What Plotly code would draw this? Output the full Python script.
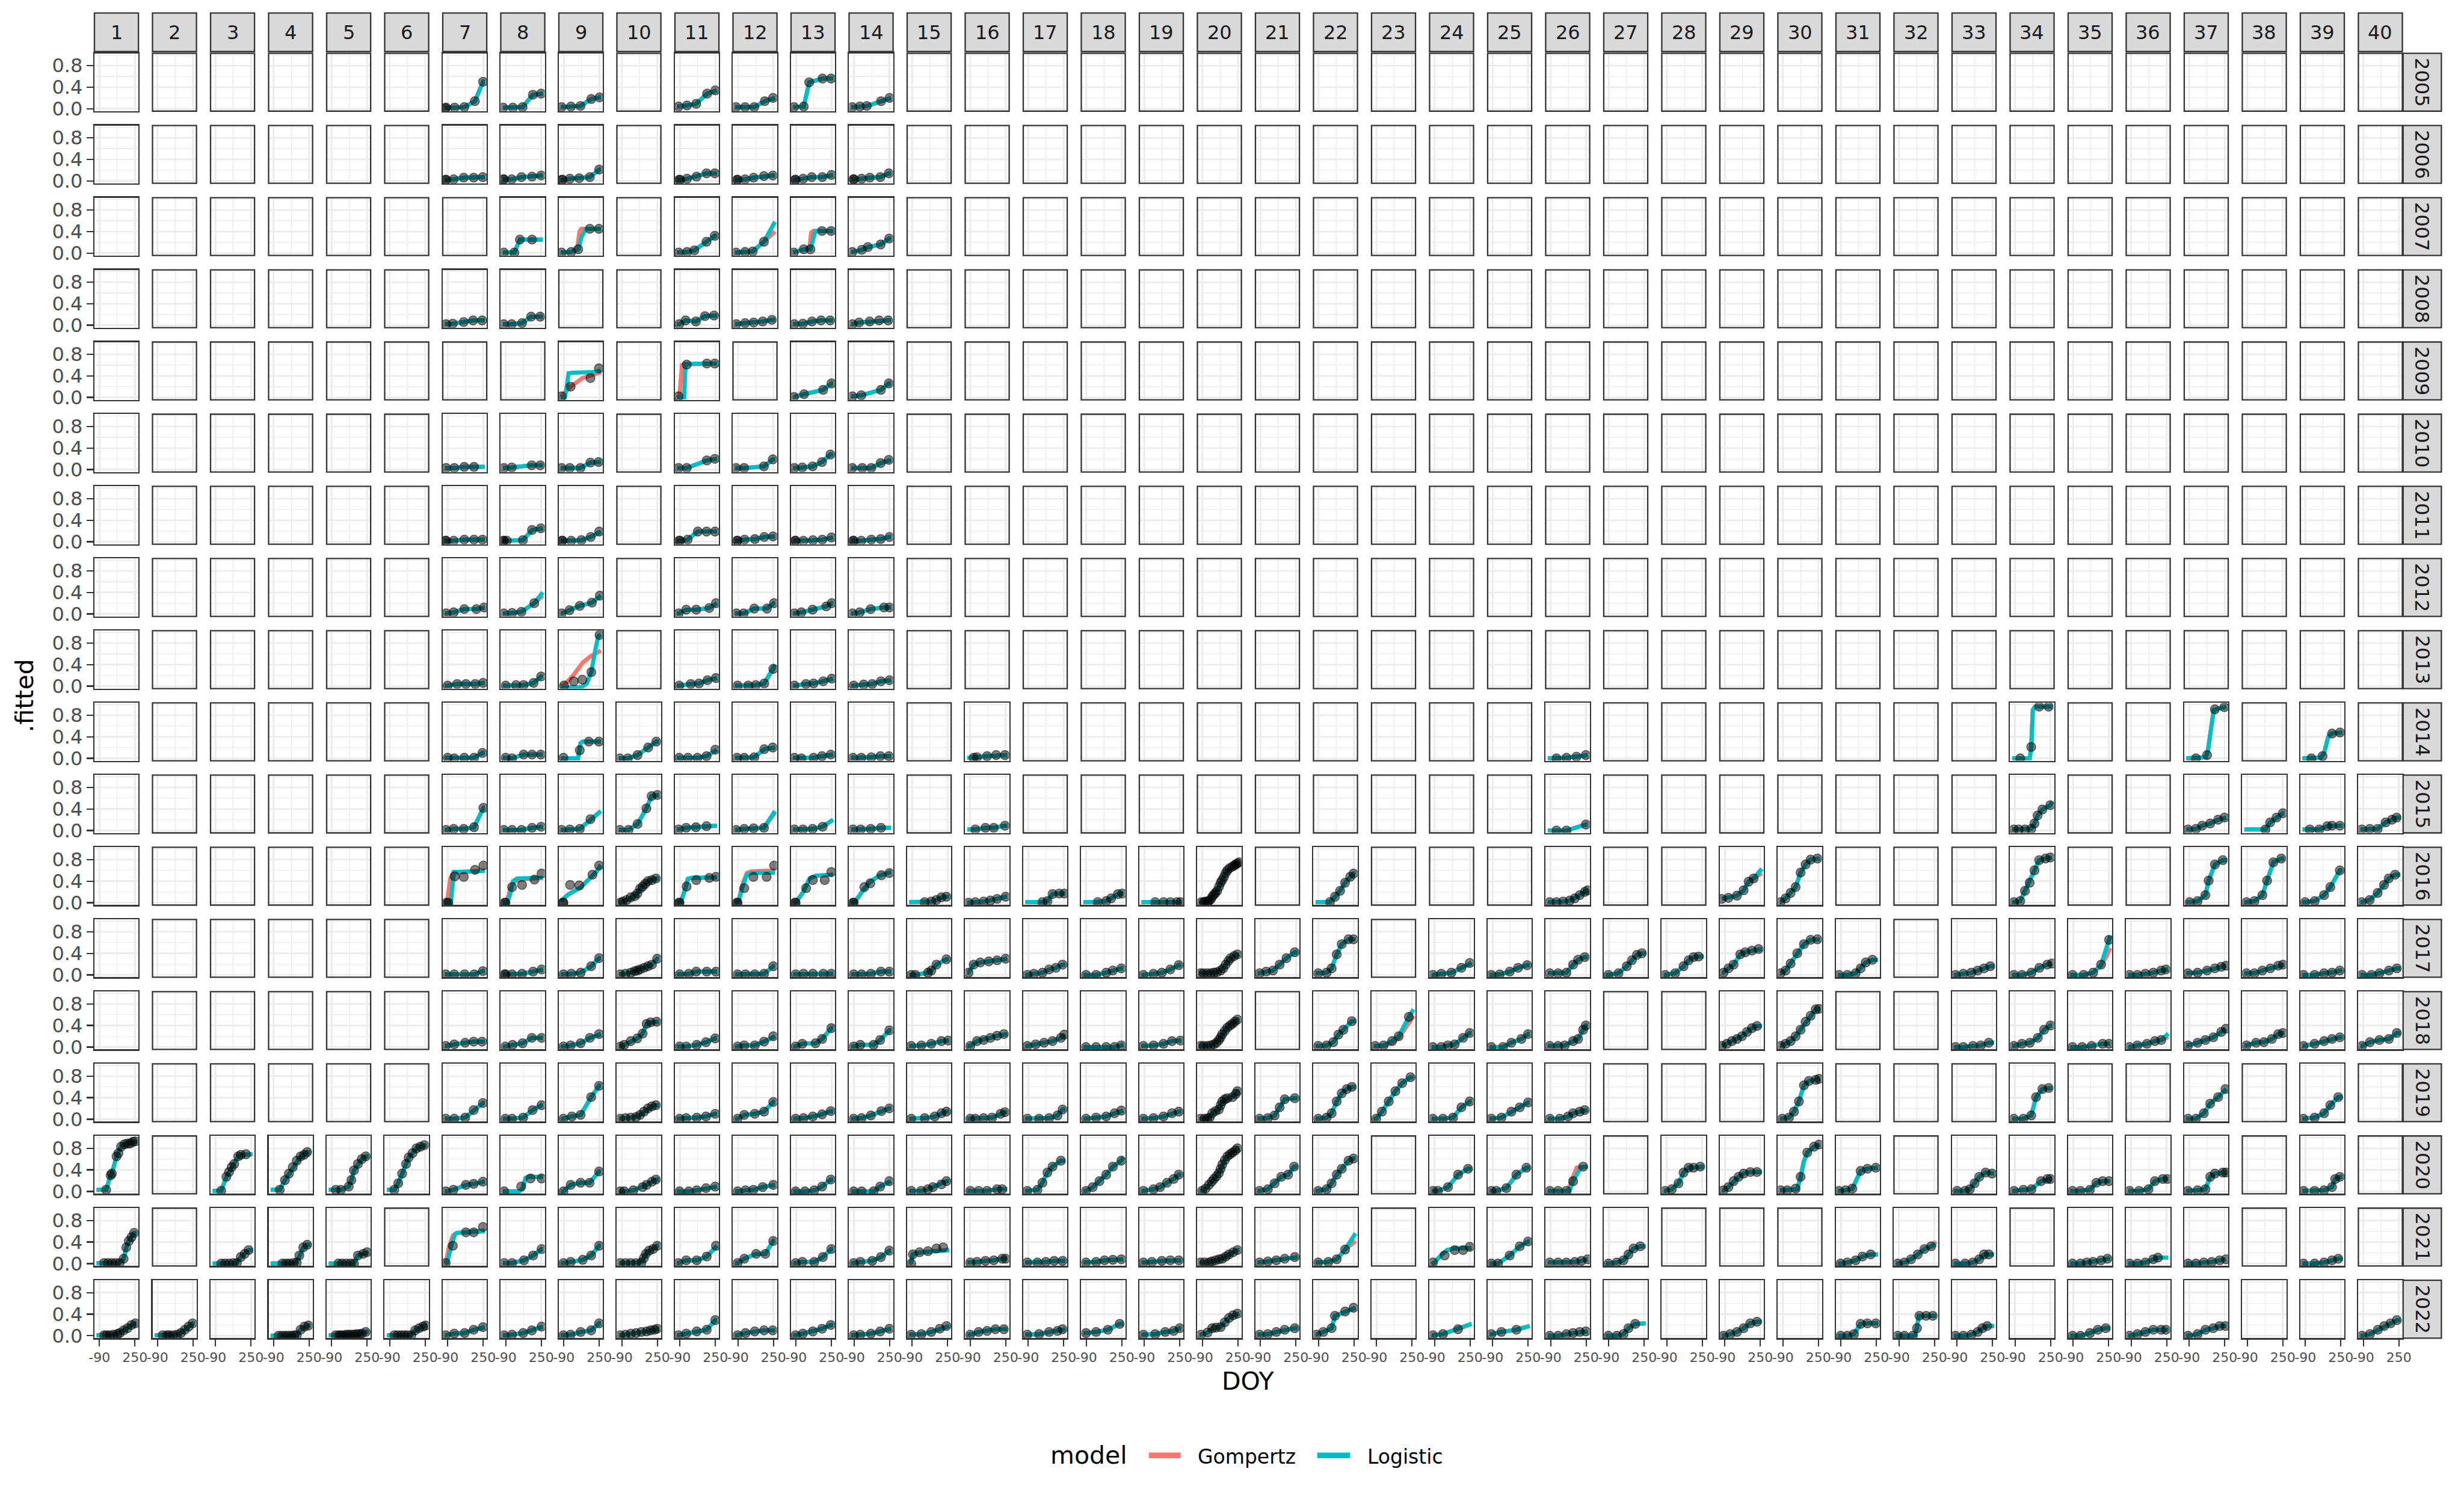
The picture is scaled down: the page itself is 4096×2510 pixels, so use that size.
import plotly.graph_objects as go

# ---------------- canvas ----------------
W, H = 4096, 2510
S = W / 4320.0  # scale from reference pixels

# ---------------- facets / ticks ----------------
YEARS = list(range(2005, 2023))
SITES = list(range(1, 41))
X_BREAKS = [-90, 250]
X_LABELS = ["-90", "250"]
X_MINOR = [80]
Y_BREAKS = [0.0, 0.4, 0.8]
Y_LABELS = ["0.0", "0.4", "0.8"]
Y_MINOR = [0.2, 0.6, 1.0]
X_RANGE = [-138, 284]
Y_RANGE = [-0.045, 1.03]
FIT_START, FIT_STOP = -118, 265   # DOY span of the prediction grid

MODELS = ["Gompertz", "Logistic"]
MODEL_COLORS = {"Gompertz": "#F8766D", "Logistic": "#00BFC4"}
LEGEND_TITLE = "model"

# ---------------- observations (DOY, value) per site, one dict per year ----------------
obs_2005 = {
    7: [(-115, .01), (-106, .02), (-24, .02), (69, .03), (170, .14), (249, .50)],
    8: [(-115, .02), (-22, .02), (71, .03), (170, .26), (249, .28)],
    9: [(-112, .03), (-22, .04), (69, .05), (173, .18), (252, .21)],
    11: [(-103, .04), (-22, .06), (66, .09), (171, .28), (249, .34)],
    12: [(-109, .03), (-22, .03), (66, .03), (167, .14), (246, .20)],
    13: [(-109, .03), (-16, .04), (36, .49), (164, .56), (246, .56)],
    14: [(-107, .03), (-35, .04), (32, .05), (169, .14), (250, .20)],
}
obs_2006 = {
    7: [(-112, .02), (-106, .02), (-33, .03), (63, .06), (159, .06), (246, .07)],
    8: [(-112, .03), (-109, .03), (-33, .03), (60, .07), (162, .08), (249, .10)],
    9: [(-110, .02), (-103, .02), (-33, .04), (57, .05), (159, .07), (249, .21)],
    11: [(-100, .02), (-88, .02), (-22, .04), (69, .08), (165, .14), (244, .14)],
    12: [(-100, .02), (-94, .02), (-22, .03), (60, .06), (159, .09), (244, .10)],
    13: [(-100, .02), (-94, .02), (-22, .04), (60, .07), (162, .07), (249, .11)],
    14: [(-98, .03), (-91, .03), (-18, .04), (60, .06), (162, .07), (243, .14)],
}
obs_2007 = {
    8: [(-109, .01), (-8, .01), (45, .25), (162, .25)],
    9: [(-112, .01), (-19, .02), (48, .07), (159, .45), (246, .45)],
    11: [(-103, .01), (-22, .02), (48, .05), (165, .21), (244, .32)],
    12: [(-109, .01), (-22, .02), (51, .03), (159, .21)],
    13: [(-112, .01), (-16, .07), (48, .07), (159, .41), (246, .41)],
    14: [(-107, .02), (-16, .06), (42, .11), (165, .16), (246, .27)],
}
obs_2008 = {
    7: [(-106, .02), (-42, .03), (63, .06), (153, .09), (240, .09)],
    8: [(-109, .02), (-33, .02), (66, .04), (153, .16), (240, .16)],
    11: [(-97, .02), (-36, .09), (63, .07), (150, .17), (237, .18)],
    12: [(-106, .02), (-22, .04), (60, .05), (147, .07), (235, .10)],
    13: [(-106, .02), (-24, .03), (63, .07), (150, .09), (237, .09)],
    14: [(-106, .02), (-42, .05), (60, .07), (150, .09), (237, .09)],
}
obs_2009 = {
    9: [(-112, .02), (-25, .20), (165, .36), (246, .54)],
    11: [(-103, .02), (-25, .61), (168, .63), (244, .63)],
    13: [(-110, .01), (-13, .06), (170, .14), (250, .26)],
    14: [(-106, .02), (-21, .04), (167, .14), (243, .26)],
}
obs_2010 = {
    7: [(-106, .03), (-27, .03), (69, .05), (162, .05)],
    8: [(-109, .03), (-33, .04), (159, .08), (240, .08)],
    9: [(-112, .03), (-33, .03), (69, .03), (165, .13), (243, .14)],
    11: [(-103, .03), (-25, .03), (168, .17), (244, .20)],
    12: [(-109, .03), (-31, .03), (159, .06), (244, .19)],
    13: [(-106, .03), (-30, .04), (69, .06), (159, .14), (240, .28)],
    14: [(-107, .03), (-12, .03), (75, .03), (165, .12), (243, .18)],
}
obs_2011 = {
    7: [(-112, .02), (-106, .02), (-33, .02), (69, .04), (162, .04), (243, .04)],
    8: [(-112, .02), (-109, .02), (-80, .02), (74, .03), (162, .22), (246, .25)],
    9: [(-108, .02), (-103, .02), (-19, .02), (78, .03), (168, .09), (249, .19)],
    11: [(-100, .02), (-88, .02), (-16, .04), (81, .19), (165, .19), (246, .19)],
    12: [(-100, .02), (-94, .02), (-27, .04), (72, .05), (162, .09), (246, .10)],
    13: [(-100, .02), (-94, .02), (-19, .02), (72, .03), (162, .04), (249, .08)],
    14: [(-100, .02), (-94, .02), (-21, .02), (75, .04), (165, .05), (249, .09)],
}
obs_2012 = {
    7: [(-106, .01), (-33, .03), (69, .09), (185, .09), (258, .12)],
    8: [(-109, .01), (-30, .02), (60, .04), (183, .20)],
    9: [(-112, .01), (-36, .07), (63, .15), (179, .21), (255, .34)],
    11: [(-103, .01), (-30, .08), (66, .08), (191, .11), (255, .20)],
    12: [(-106, .01), (-36, .01), (66, .10), (188, .10), (255, .20)],
    13: [(-106, .01), (-39, .03), (69, .08), (200, .14), (252, .20)],
    14: [(-106, .01), (-36, .03), (69, .09), (197, .12), (249, .12)],
}
obs_2013 = {
    7: [(-91, .01), (0, .04), (84, .04), (174, .04), (249, .06)],
    8: [(-91, .01), (8, .02), (81, .02), (177, .06), (249, .18)],
    9: [(-88, .01), (5, .09), (87, .12), (174, .26), (252, .95)],
    11: [(-97, .01), (14, .04), (93, .05), (174, .11), (255, .15)],
    12: [(-94, .01), (8, .01), (81, .02), (162, .05), (249, .32)],
    13: [(-106, .01), (5, .04), (78, .05), (171, .09), (252, .14)],
    14: [(-94, .01), (2, .03), (84, .04), (168, .09), (249, .11)],
}
obs_2014 = {
    7: [(-91, .01), (-27, .00), (69, .01), (162, .01), (243, .10)],
    8: [(-91, .01), (-30, .00), (81, .07), (162, .07), (246, .07)],
    9: [(-94, .01), (63, .15), (150, .31), (246, .31)],
    10: [(-110, .00), (-33, .00), (60, .06), (162, .20), (240, .31)],
    11: [(-97, .01), (-13, .01), (78, .01), (165, .04), (249, .16)],
    12: [(-100, .01), (-30, .01), (66, .02), (162, .17), (243, .20)],
    13: [(-106, .01), (-39, .00), (78, .01), (159, .04), (243, .07)],
    14: [(-100, .01), (-21, .01), (75, .02), (162, .04), (243, .04)],
    16: [(-57, .01), (-25, .02), (72, .04), (159, .06), (243, .06)],
    26: [(-35, .00), (61, .01), (157, .03), (247, .06)],
    34: [(-41, .00), (65, .21), (141, .96), (232, .96)],
    37: [(-26, .00), (81, .06), (156, .91), (247, .95)],
    39: [(-32, .00), (75, .04), (166, .46), (242, .48)],
}
obs_2015 = {
    7: [(-106, .01), (-33, .03), (63, .03), (162, .06), (252, .42)],
    8: [(-109, .01), (-30, .01), (60, .01), (162, .05), (249, .07)],
    9: [(-112, .01), (-33, .02), (63, .03), (165, .21)],
    10: [(-110, .01), (-27, .01), (60, .12), (145, .41), (195, .64), (250, .66)],
    11: [(-103, .02), (-30, .05), (63, .06), (165, .08)],
    12: [(-109, .01), (-30, .03), (60, .04), (159, .05)],
    13: [(-106, .02), (-24, .02), (69, .03), (165, .07)],
    14: [(-100, .02), (-27, .02), (69, .03), (168, .05)],
    16: [(-41, .02), (56, .05), (136, .05), (243, .09)],
    26: [(-35, .00), (61, .00), (247, .11)],
    34: [(-102, .02), (-56, .02), (5, .02), (65, .03), (96, .13), (126, .28), (172, .39), (248, .47)],
    37: [(-102, .02), (-26, .03), (35, .09), (111, .13), (187, .20), (248, .24)],
    38: [(84, .02), (129, .15), (190, .24), (251, .32)],
    39: [(-47, .02), (44, .02), (120, .08), (166, .09), (241, .09)],
    40: [(-105, .02), (-29, .03), (47, .03), (123, .15), (184, .20), (229, .24)],
}
obs_2016 = {
    7: [(-103, .00), (-85, .00), (-23, .49), (64, .48), (172, .61), (252, .69)],
    8: [(-100, .00), (-94, .00), (-30, .29), (66, .33), (185, .43), (253, .54)],
    9: [(-100, .00), (-94, .00), (-30, .33), (58, .32), (185, .52), (248, .69)],
    10: [(-106, .00), (-81, .02), (-43, .05), (-5, .10), (33, .12), (58, .17), (84, .26), (109, .30),
         (134, .35), (160, .40), (198, .42), (236, .45)],
    11: [(-100, .00), (-94, .00), (-26, .30), (66, .42), (192, .46), (255, .48)],
    12: [(-100, .00), (-94, .00), (-30, .27), (58, .48), (185, .48), (256, .69)],
    13: [(-100, .00), (-94, .00), (7, .27), (71, .42), (185, .42), (248, .57)],
    14: [(-100, .00), (-94, .00), (8, .29), (65, .36), (172, .51), (248, .55)],
    15: [(30, .01), (94, .02), (143, .05), (191, .10), (239, .11)],
    16: [(-106, .00), (-41, .01), (39, .02), (104, .04), (168, .07), (249, .11)],
    17: [(46, .01), (94, .03), (143, .16), (207, .17), (256, .17)],
    18: [(20, .01), (101, .03), (149, .08), (214, .16), (256, .17)],
    19: [(14, .01), (94, .01), (159, .01), (223, .01), (256, .01)],
    20: [(-100, .01), (-77, .01), (-60, .02), (-40, .02), (-28, .03), (-10, .06), (4, .11), (20, .15),
         (35, .18), (52, .22), (70, .30), (85, .37), (100, .42), (117, .48), (133, .55), (149, .60),
         (170, .64), (198, .67), (215, .69), (230, .71), (245, .73), (262, .75)],
    22: [(20, .01), (68, .11), (117, .22), (165, .37), (214, .48), (246, .54)],
    26: [(-99, .01), (-35, .01), (29, .02), (93, .04), (141, .08), (189, .14), (237, .20), (265, .23)],
    29: [(-119, .07), (-55, .09), (26, .13), (90, .23), (138, .39), (186, .45)],
    30: [(-112, .01), (-64, .08), (-16, .18), (32, .29), (80, .56), (128, .71), (176, .80), (241, .82)],
    34: [(-102, .01), (-41, .03), (5, .22), (50, .37), (96, .60), (141, .79), (202, .82), (248, .84)],
    37: [(-86, .01), (-10, .03), (65, .14), (96, .41), (156, .71), (232, .79)],
    38: [(-97, .01), (-21, .03), (55, .14), (100, .41), (160, .75), (236, .82)],
    39: [(-92, .01), (-1, .03), (90, .14), (150, .29), (241, .60)],
    40: [(-105, .01), (-29, .05), (47, .18), (108, .33), (153, .45), (214, .52)],
}
obs_2017 = {
    7: [(-110, .01), (-28, .01), (72, .01), (164, .01), (247, .07)],
    8: [(-100, .01), (-94, .01), (-30, .01), (66, .02), (172, .06), (253, .10)],
    9: [(-94, .01), (-18, .02), (71, .04), (172, .16), (248, .31)],
    10: [(-106, .01), (-56, .02), (-5, .04), (33, .07), (58, .08), (84, .10), (122, .13), (160, .16),
         (198, .19), (248, .30)],
    11: [(-94, .01), (-5, .02), (66, .06), (167, .06), (255, .06)],
    12: [(-94, .01), (-18, .01), (71, .01), (160, .02), (248, .16)],
    13: [(-94, .01), (-18, .02), (71, .02), (172, .02), (248, .02)],
    14: [(-94, .01), (-18, .01), (71, .02), (167, .06), (248, .06)],
    15: [(-99, .00), (-60, .00), (62, .04), (94, .08), (143, .19), (239, .29)],
    16: [(-106, .04), (-57, .19), (7, .23), (88, .25), (168, .27), (249, .30)],
    17: [(-99, .00), (-35, .02), (46, .04), (110, .10), (175, .13), (239, .19)],
    18: [(-93, .00), (4, .00), (101, .04), (165, .08), (246, .12)],
    19: [(-99, .00), (-2, .02), (78, .04), (159, .10), (240, .18)],
    20: [(-109, .03), (-80, .03), (-44, .03), (-10, .03), (20, .04), (50, .05), (85, .08), (110, .12),
         (133, .19), (160, .26), (181, .31), (215, .35), (246, .38)],
    21: [(-99, .03), (-35, .06), (30, .08), (94, .19), (159, .31), (239, .42)],
    22: [(-93, .03), (-12, .04), (36, .12), (85, .38), (133, .57), (198, .66), (246, .66)],
    24: [(-106, .00), (-26, .02), (71, .04), (167, .13), (247, .22)],
    25: [(-103, .00), (-22, .01), (74, .06), (154, .13), (241, .18)],
    26: [(-99, .03), (-19, .03), (61, .04), (125, .19), (173, .28), (237, .33)],
    27: [(-93, .00), (3, .03), (83, .16), (132, .27), (180, .37), (228, .40)],
    28: [(-106, .00), (-10, .03), (71, .16), (119, .27), (167, .33), (215, .34)],
    29: [(-103, .04), (-55, .12), (-6, .19), (58, .38), (106, .42), (170, .45), (234, .48)],
    30: [(-112, .03), (-64, .08), (-16, .21), (48, .40), (112, .57), (176, .65), (241, .66)],
    31: [(-109, .00), (-29, .00), (51, .03), (99, .12), (148, .23), (212, .28)],
    33: [(-105, .00), (-29, .02), (47, .04), (108, .08), (169, .12), (229, .16)],
    34: [(-102, .00), (-24, .00), (67, .04), (143, .13), (219, .19), (264, .21)],
    35: [(-96, .00), (11, .00), (102, .04), (178, .19), (254, .65)],
    36: [(-106, .00), (-30, .00), (46, .02), (122, .04), (197, .08), (243, .10)],
    37: [(-102, .03), (-10, .04), (81, .08), (156, .12), (217, .15), (263, .17)],
    38: [(-97, .03), (-21, .03), (55, .08), (131, .12), (207, .17), (252, .19)],
    39: [(-108, .00), (-1, .00), (90, .03), (166, .04), (241, .08)],
    40: [(-103, .00), (-12, .00), (64, .03), (155, .08), (231, .12)],
}
obs_2018 = {
    7: [(-110, .02), (-28, .05), (77, .08), (159, .10), (239, .10)],
    8: [(-94, .01), (-25, .04), (71, .07), (160, .17), (253, .17)],
    9: [(-94, .01), (-25, .03), (71, .07), (160, .17), (248, .24)],
    10: [(-106, .01), (-68, .04), (-5, .11), (58, .16), (109, .25), (147, .43), (185, .46), (243, .47)],
    11: [(-94, .01), (-30, .01), (71, .04), (160, .09), (248, .16)],
    12: [(-94, .01), (-30, .03), (71, .03), (160, .10), (248, .20)],
    13: [(-94, .01), (-30, .06), (97, .07), (160, .15), (248, .35)],
    14: [(-94, .01), (-30, .04), (97, .04), (160, .13), (248, .31)],
    15: [(-99, .02), (-2, .03), (94, .06), (191, .11), (256, .12)],
    16: [(-90, .02), (-25, .11), (39, .13), (104, .17), (168, .21), (233, .24)],
    17: [(-99, .02), (-19, .05), (62, .08), (143, .11), (223, .17), (256, .23)],
    18: [(-93, .00), (4, .00), (101, .00), (181, .00), (246, .03)],
    19: [(-99, .02), (-2, .03), (94, .06), (175, .11), (256, .12)],
    20: [(-109, .02), (-80, .02), (-44, .02), (-10, .03), (20, .05), (45, .08), (68, .13), (85, .18),
         (101, .24), (125, .30), (149, .36), (175, .40), (198, .43), (220, .47), (246, .51)],
    22: [(-93, .02), (-12, .03), (52, .09), (101, .23), (149, .32), (230, .48)],
    23: [(-103, .02), (-22, .03), (59, .11), (123, .20), (220, .56)],
    24: [(-106, .00), (-26, .00), (38, .03), (103, .05), (183, .17), (247, .26)],
    25: [(-103, .00), (10, .00), (90, .08), (186, .15), (250, .24)],
    26: [(-99, .02), (-19, .02), (45, .03), (125, .11), (173, .15), (221, .32), (247, .40)],
    29: [(-119, .02), (-71, .06), (-22, .11), (26, .15), (74, .20), (122, .28), (170, .35), (218, .39)],
    30: [(-112, .02), (-64, .06), (-16, .11), (32, .20), (80, .32), (128, .47), (176, .58), (225, .70),
         (257, .71)],
    33: [(-105, .00), (-29, .00), (62, .02), (138, .03), (214, .08)],
    34: [(-100, .02), (-24, .06), (52, .08), (128, .17), (188, .32), (249, .40)],
    35: [(-96, .00), (-4, .00), (87, .02), (193, .06), (254, .06)],
    36: [(-106, .00), (-30, .03), (61, .06), (137, .11), (198, .13)],
    37: [(-102, .03), (-10, .08), (65, .13), (141, .18), (217, .28), (262, .34)],
    38: [(-97, .03), (-6, .08), (70, .09), (146, .15), (207, .24), (252, .26)],
    39: [(-108, .02), (-1, .06), (90, .11), (166, .15), (241, .18)],
    40: [(-103, .02), (-27, .09), (64, .13), (155, .15), (231, .26)],
}
obs_2019 = {
    7: [(-110, .01), (-28, .01), (77, .03), (159, .17), (247, .30)],
    8: [(-94, .01), (-30, .01), (76, .03), (167, .17), (253, .26)],
    9: [(-94, .01), (-13, .05), (71, .08), (172, .41), (248, .62)],
    10: [(-106, .01), (-56, .02), (-5, .03), (46, .04), (84, .08), (122, .14), (160, .20), (198, .24),
         (236, .26)],
    11: [(-94, .01), (-30, .02), (71, .03), (160, .05), (248, .10)],
    12: [(-94, .01), (-30, .08), (71, .10), (160, .14), (248, .32)],
    13: [(-94, .01), (-18, .02), (71, .05), (160, .09), (243, .15)],
    14: [(-94, .01), (-18, .02), (71, .07), (172, .15), (248, .20)],
    15: [(-99, .01), (30, .02), (127, .05), (191, .11), (239, .14)],
    16: [(-90, .01), (-41, .01), (39, .02), (120, .03), (201, .10), (243, .13)],
    17: [(-99, .01), (14, .01), (110, .02), (191, .07), (239, .18)],
    18: [(-93, .01), (4, .03), (101, .05), (181, .11), (246, .16)],
    19: [(-99, .01), (-2, .02), (94, .05), (175, .11), (240, .14)],
    20: [(-109, .01), (-70, .01), (-44, .01), (-20, .03), (4, .11), (35, .15), (68, .18), (85, .26),
         (101, .33), (125, .37), (149, .39), (198, .41), (230, .47), (246, .52)],
    21: [(-99, .01), (-19, .02), (46, .07), (94, .22), (143, .37), (239, .39)],
    22: [(-93, .01), (-12, .03), (36, .11), (85, .33), (133, .48), (181, .56), (230, .60)],
    23: [(-93, .01), (-38, .14), (27, .33), (91, .52), (156, .67), (236, .78)],
    24: [(-106, .01), (-10, .01), (87, .03), (167, .22), (247, .33)],
    25: [(-103, .01), (-6, .03), (90, .14), (170, .22), (250, .31)],
    26: [(-99, .01), (-3, .01), (77, .05), (125, .11), (189, .14), (237, .17)],
    30: [(-96, .01), (-32, .03), (16, .14), (64, .33), (112, .63), (160, .71), (225, .73), (257, .75)],
    34: [(-102, .01), (-10, .01), (65, .07), (111, .41), (172, .56), (232, .58)],
    37: [(-102, .01), (-26, .01), (50, .11), (111, .29), (187, .41), (257, .56)],
    39: [(-108, .01), (-1, .03), (90, .11), (150, .26), (226, .41)],
}
obs_2020 = {
    1: [(-26, .03), (17, .30), (29, .33), (74, .65), (92, .71), (117, .83), (149, .875), (179, .89),
        (204, .89), (229, .92), (254, .93)],
    3: [(-36, .01), (14, .27), (39, .36), (64, .45), (89, .51), (127, .65), (152, .68), (202, .69)],
    4: [(-31, .03), (19, .21), (57, .33), (94, .45), (132, .57), (169, .65), (202, .68), (232, .73)],
    5: [(-51, .03), (-1, .03), (74, .09), (99, .21), (124, .39), (162, .51), (199, .60), (237, .65)],
    6: [(-46, .03), (-8, .15), (29, .33), (67, .51), (92, .63), (129, .71), (167, .80), (204, .83),
        (242, .86)],
    7: [(-110, .00), (-36, .03), (84, .12), (159, .14), (247, .18)],
    8: [(-106, .00), (58, .09), (147, .24), (253, .24)],
    9: [(-94, .00), (-25, .12), (71, .16), (157, .16), (248, .37)],
    10: [(-106, .00), (-68, .00), (20, .02), (109, .08), (147, .12), (198, .18), (236, .22)],
    11: [(-94, .00), (-5, .00), (71, .02), (160, .06), (248, .09)],
    12: [(-94, .00), (-18, .02), (58, .03), (147, .08), (248, .12)],
    13: [(-94, .00), (-5, .00), (84, .02), (160, .09), (243, .22)],
    14: [(-94, .00), (-18, .00), (97, .00), (160, .09), (248, .19)],
    15: [(-99, .01), (-2, .01), (62, .04), (110, .08), (191, .13), (239, .19)],
    16: [(-90, .01), (-9, .01), (72, .01), (168, .04), (217, .04)],
    17: [(-99, .01), (-2, .03), (46, .16), (94, .35), (143, .46), (223, .57)],
    18: [(-93, .01), (-28, .08), (36, .19), (101, .31), (165, .46), (246, .57)],
    19: [(-99, .01), (-2, .04), (62, .08), (127, .16), (191, .23), (240, .31)],
    20: [(-93, .01), (-60, .05), (-28, .12), (0, .18), (20, .23), (45, .28), (68, .34), (85, .42),
         (101, .50), (125, .58), (149, .65), (175, .69), (198, .72), (225, .76), (246, .80)],
    21: [(-99, .01), (-19, .04), (46, .15), (110, .27), (175, .31), (233, .46)],
    22: [(-93, .01), (-12, .04), (36, .15), (85, .31), (133, .42), (198, .57), (246, .61)],
    24: [(-106, .01), (-58, .01), (39, .08), (135, .31), (231, .42)],
    25: [(-103, .01), (-55, .01), (42, .06), (138, .31), (234, .44)],
    26: [(-99, .01), (-19, .01), (61, .01), (125, .19), (221, .46)],
    28: [(-106, .01), (-42, .04), (22, .15), (71, .35), (119, .44), (167, .44), (231, .46)],
    29: [(-103, .02), (-55, .08), (-6, .19), (42, .27), (90, .33), (154, .36), (218, .36)],
    30: [(-112, .02), (-48, .02), (32, .05), (80, .27), (144, .72), (209, .83), (257, .87)],
    31: [(-109, .01), (-45, .02), (19, .05), (99, .38), (164, .42), (244, .44)],
    33: [(-89, .01), (-13, .01), (32, .04), (78, .15), (123, .27), (184, .35), (245, .33)],
    34: [(-100, .01), (-10, .03), (67, .04), (158, .19), (219, .23), (249, .23)],
    35: [(-96, .01), (-20, .01), (71, .03), (132, .16), (193, .19), (254, .19)],
    36: [(-106, .01), (-14, .01), (76, .04), (137, .19), (213, .23), (258, .23)],
    37: [(-102, .01), (-10, .02), (65, .04), (111, .27), (156, .33), (232, .35), (262, .35)],
    39: [(-108, .01), (-1, .01), (90, .02), (166, .08), (196, .23), (241, .27)],
}
obs_2021 = {
    1: [(-46, .01), (-10, .01), (29, .01), (65, .01), (104, .01), (142, .09), (167, .30), (192, .42),
        (217, .49), (242, .57)],
    3: [(-36, .00), (0, .00), (39, .00), (80, .01), (114, .01), (152, .12), (189, .18), (227, .25)],
    4: [(-6, .00), (30, .00), (60, .00), (100, .01), (132, .02), (157, .15), (194, .30), (232, .35)],
    5: [(-26, .00), (10, .00), (50, .00), (90, .00), (124, .00), (162, .15), (212, .18), (249, .21)],
    7: [(-110, .01), (-41, .33), (84, .58), (159, .58), (247, .68)],
    8: [(-106, .01), (-30, .01), (84, .06), (172, .15), (253, .27)],
    9: [(-94, .01), (-25, .03), (91, .07), (172, .15), (248, .33)],
    10: [(-106, .01), (-56, .01), (-5, .01), (46, .01), (97, .02), (120, .10), (140, .18), (172, .24),
         (210, .27), (248, .33)],
    11: [(-106, .01), (-30, .06), (71, .06), (167, .13), (255, .33)],
    12: [(-94, .01), (-30, .09), (84, .18), (172, .18), (248, .42)],
    13: [(-94, .01), (-30, .03), (84, .03), (167, .12), (248, .27)],
    14: [(-94, .01), (-30, .03), (84, .05), (167, .12), (248, .24)],
    15: [(-99, .00), (-83, .17), (-19, .21), (62, .23), (143, .28), (207, .30)],
    16: [(-90, .02), (-25, .03), (56, .05), (136, .06), (217, .09), (249, .09)],
    17: [(-99, .02), (-2, .02), (78, .03), (159, .05), (239, .05)],
    18: [(-93, .02), (4, .03), (85, .06), (165, .07), (246, .08)],
    19: [(-99, .02), (-18, .03), (78, .05), (159, .06), (240, .06)],
    20: [(-109, .02), (-70, .02), (-28, .02), (0, .04), (36, .06), (70, .08), (101, .09), (135, .13),
         (165, .17), (205, .21), (246, .25)],
    21: [(-99, .02), (-19, .04), (62, .06), (143, .09), (239, .12)],
    22: [(-93, .02), (4, .03), (85, .08), (165, .26)],
    24: [(-106, .02), (6, .15), (103, .25), (183, .25), (247, .31)],
    25: [(-103, .00), (-39, .00), (74, .15), (170, .32), (250, .41)],
    26: [(-99, .02), (-19, .02), (61, .02), (141, .03), (205, .05), (265, .08)],
    27: [(-93, .00), (-13, .02), (51, .06), (99, .17), (148, .28), (212, .32)],
    31: [(-93, .00), (-29, .02), (51, .06), (116, .13), (196, .17)],
    32: [(-103, .00), (-39, .02), (26, .08), (90, .17), (154, .27), (218, .32)],
    33: [(-105, .00), (-13, .00), (62, .02), (123, .08), (169, .17), (214, .17)],
    35: [(-96, .00), (-20, .00), (41, .02), (102, .03), (178, .06), (239, .09)],
    36: [(-106, .00), (-30, .00), (46, .02), (122, .08), (167, .11)],
    37: [(-102, .00), (-26, .00), (50, .02), (126, .03), (202, .06), (262, .08)],
    39: [(-108, .00), (-1, .00), (90, .02), (166, .06), (226, .09)],
}
obs_2022 = {
    1: [(-46, .01), (-21, .01), (10, .01), (45, .02), (80, .03), (104, .05), (142, .10), (179, .14),
        (217, .20), (254, .23)],
    2: [(-41, .01), (0, .01), (22, .01), (60, .01), (97, .02), (134, .05), (172, .11), (209, .17),
        (247, .23)],
    4: [(-43, .00), (-10, .00), (20, .00), (50, .00), (80, .00), (110, .01), (132, .01), (169, .11),
        (207, .17), (244, .19)],
    5: [(-51, .01), (-20, .01), (0, .01), (25, .01), (50, .02), (75, .02), (100, .02), (125, .02),
        (150, .03), (175, .03), (200, .04), (237, .07)],
    6: [(-46, .01), (-15, .01), (20, .01), (50, .01), (80, .01), (117, .01), (154, .10), (192, .14),
        (229, .17), (254, .19)],
    7: [(-110, .01), (-28, .04), (72, .05), (159, .11), (247, .16)],
    8: [(-106, .01), (-30, .02), (76, .05), (160, .10), (253, .17)],
    9: [(-94, .01), (-25, .02), (71, .07), (172, .10), (248, .23)],
    10: [(-106, .01), (-56, .02), (-5, .04), (46, .05), (97, .07), (147, .08), (185, .10), (223, .11),
         (248, .13)],
    11: [(-106, .01), (-30, .04), (71, .08), (167, .11), (248, .29)],
    12: [(-94, .01), (-18, .05), (71, .08), (160, .10), (243, .10)],
    13: [(-94, .01), (-25, .04), (71, .08), (160, .13), (243, .20)],
    14: [(-94, .01), (-30, .02), (71, .04), (160, .08), (248, .13)],
    15: [(-99, .02), (-2, .03), (94, .07), (175, .13), (239, .18)],
    16: [(-90, .02), (-9, .07), (72, .09), (152, .12), (233, .12)],
    17: [(-99, .02), (14, .03), (110, .07), (191, .09), (239, .12)],
    18: [(-93, .05), (4, .07), (117, .11), (230, .22)],
    19: [(-99, .02), (14, .03), (110, .07), (191, .09), (250, .14)],
    20: [(-103, .02), (-40, .06), (4, .14), (40, .15), (85, .16), (125, .25), (165, .33), (205, .38),
         (246, .41)],
    21: [(-99, .02), (-19, .03), (62, .07), (143, .11), (239, .14)],
    22: [(-109, .02), (-44, .07), (36, .14), (68, .37), (165, .45), (246, .52)],
    24: [(-106, .01), (-10, .03), (135, .12)],
    25: [(-103, .03), (-6, .07), (138, .11)],
    26: [(-99, .00), (-19, .00), (61, .03), (125, .05), (189, .07), (247, .08)],
    27: [(-93, .00), (-13, .00), (51, .03), (99, .14), (164, .22)],
    29: [(-103, .00), (-39, .03), (26, .07), (90, .14), (154, .23), (218, .26)],
    31: [(-93, .00), (-29, .00), (35, .03), (99, .22), (164, .23), (244, .23)],
    32: [(-103, .00), (-39, .00), (42, .00), (83, .14), (106, .37), (170, .37), (234, .37)],
    33: [(-105, .00), (-29, .00), (47, .02), (108, .07), (153, .14), (199, .18)],
    35: [(-96, .00), (-20, .00), (71, .05), (147, .11), (223, .14)],
    36: [(-106, .00), (-30, .03), (46, .07), (122, .11), (197, .11), (243, .11)],
    37: [(-102, .00), (-10, .03), (65, .11), (141, .14), (202, .18), (257, .18)],
    40: [(-103, .00), (-27, .03), (49, .11), (110, .18), (170, .23), (231, .29)],
}

OBSERVATIONS = {
    2005: obs_2005, 2006: obs_2006, 2007: obs_2007, 2008: obs_2008, 2009: obs_2009,
    2010: obs_2010, 2011: obs_2011, 2012: obs_2012, 2013: obs_2013, 2014: obs_2014,
    2015: obs_2015, 2016: obs_2016, 2017: obs_2017, 2018: obs_2018, 2019: obs_2019,
    2020: obs_2020, 2021: obs_2021, 2022: obs_2022,
}

# ---------------- fitted curves read where they leave the observations ----------------
logistic_fit = {
    (2007, 9): [(-118, .01), (-19, .02), (48, .07), (80, .30), (121, .45), (265, .45)],
    (2007, 13): [(-118, .01), (-16, .07), (48, .07), (70, .25), (95, .41), (265, .41)],
    (2009, 9): [(-118, 0), (-80, 0), (-62, .20), (-45, .45), (0, .46), (200, .47), (265, .50)],
    (2009, 11): [(-118, 0), (-50, 0), (-36, .62), (265, .63)],
    (2013, 9): [(-118, -.02), (80, -.02), (130, .05), (173, .26), (215, .70), (240, .93), (265, .96)],
    (2014, 9): [(-118, 0), (45, 0), (55, .10), (70, .28), (90, .31), (265, .31)],
    (2014, 34): [(-118, 0), (50, 0), (65, .20), (80, .90), (100, .96), (265, .96)],
    (2014, 37): [(-118, 0), (70, .02), (90, .15), (120, .60), (145, .90), (265, .96)],
    (2014, 39): [(-118, 0), (60, .01), (90, .10), (130, .40), (160, .46), (265, .48)],
    (2016, 7): [(-118, 0), (-60, 0), (-45, .30), (-30, .57), (265, .59)],
    (2016, 8): [(-118, 0), (-75, 0), (-50, .15), (-20, .40), (20, .45), (265, .46)],
    (2016, 9): [(-118, .03), (-50, .15), (70, .28), (150, .43), (225, .58), (265, .70)],
    (2016, 11): [(-118, 0), (-80, .02), (-40, .25), (-15, .44), (20, .46), (265, .47)],
    (2016, 12): [(-118, 0), (-85, .02), (-45, .30), (-5, .52), (40, .55), (265, .56)],
    (2016, 13): [(-118, 0), (-90, .01), (-20, .20), (40, .45), (100, .50), (265, .52)],
    (2016, 14): [(-118, 0), (-80, .02), (0, .24), (60, .38), (150, .50), (265, .57)],
    (2020, 8): [(-118, 0), (40, 0), (70, .05), (100, .25), (130, .27), (265, .27)],
    (2020, 26): [(-118, .01), (90, .01), (125, .19), (200, .45), (265, .46)],
    (2020, 30): [(-118, .02), (48, .04), (80, .27), (110, .55), (144, .72), (209, .83), (265, .87)],
    (2021, 7): [(-118, 0), (-95, .02), (-60, .30), (-20, .55), (0, .57), (265, .60)],
    (2021, 15): [(-118, 0), (-100, .02), (-85, .17), (-40, .20), (60, .22), (265, .25)],
    (2021, 24): [(-118, -.01), (-90, .02), (-20, .17), (30, .25), (100, .28), (265, .29)],
    (2022, 32): [(-118, 0), (42, 0), (70, .02), (83, .14), (100, .37), (265, .37)],
}
gompertz_fit = {
    (2007, 9): [(-118, .01), (-19, .02), (40, .10), (60, .40), (77, .45), (265, .45)],
    (2007, 13): [(-118, .01), (-16, .07), (40, .10), (55, .38), (75, .41), (265, .41)],
    (2009, 9): [(-118, 0), (-100, .05), (-25, .20), (90, .36), (265, .47)],
    (2009, 11): [(-118, 0), (-95, .02), (-70, .60), (-50, .62), (265, .63)],
    (2013, 9): [(-118, 0), (-85, .03), (0, .20), (92, .44), (170, .56), (265, .66)],
    (2016, 7): [(-118, 0), (-95, .05), (-65, .45), (-40, .55), (265, .60)],
    (2016, 8): [(-118, 0), (-80, .02), (-40, .30), (0, .40), (100, .44), (265, .46)],
    (2016, 12): [(-118, 0), (-85, .03), (-45, .35), (-5, .55), (40, .58), (265, .60)],
    (2017, 35): [(-118, 0), (11, 0), (102, .04), (178, .17), (230, .35), (265, .50)],
    (2018, 23): [(-118, .02), (-22, .02), (59, .08), (123, .17), (220, .45), (265, .58)],
    (2020, 26): [(-118, .01), (75, .01), (110, .20), (160, .44), (265, .46)],
    (2021, 7): [(-118, 0), (-105, .03), (-80, .30), (-40, .52), (0, .57), (265, .62)],
}
# value of the fitted curves at the end of the prediction grid: (logistic, gompertz)
fit_end = {
    (2007, 12): (.58, .40), (2012, 8): (.40, .34), (2013, 12): (.40, .36), (2015, 9): (.36, .36),
    (2015, 11): (.09, .09), (2015, 12): (.36, .33), (2015, 13): (.20, .20), (2015, 34): (.53, .53),
    (2016, 29): (.63, .55), (2017, 35): (.72, .50), (2018, 23): (.70, .58), (2018, 36): (.25, .19),
    (2021, 22): (.56, .42), (2021, 32): (.36, .41), (2022, 24): (.22, .22), (2022, 25): (.18, .18),
    (2022, 27): (.23, .23), (2020, 18): (.63, .63), (2018, 18): (.05, .05),
}


def fitted_path(key, pts, model):
    table = logistic_fit if model == "Logistic" else gompertz_fit
    if key in table:
        return table[key]
    if model == "Gompertz" and key in logistic_fit:
        return logistic_fit[key]
    pts = sorted(pts)
    path = list(pts)
    if pts[0][0] > FIT_START + 4:
        path.insert(0, (FIT_START, pts[0][1]))
    end = fit_end.get(key)
    if end is not None:
        path.append((FIT_STOP, end[0] if model == "Logistic" else end[1]))
    elif pts[-1][0] < FIT_STOP - 3:
        path.append((FIT_STOP, pts[-1][1]))
    return path


# ---------------- geometry (reference pixels) ----------------
COL_X0, COL_PITCH, PANEL_W = 156.0, 102.4, 77.6
ROW_Y0, ROW_PITCH, PANEL_H = 94.0, 127.3, 102.0
STRIP_TOP_Y = (23.0, 91.0)
STRIP_RIGHT_X = (4228.5, 4296.0)

def fx(px):
    return px * S / W

def fy(py):
    return 1 - py * S / H

FONT = "DejaVu Sans"
GRID = "#EBEBEB"
BORDER = "#333333"
LW_BORDER = 2.3
LW_MAJOR, LW_MINOR = 2.6, 1.3

fig = go.Figure()
layout = dict(
    width=W, height=H, margin=dict(l=0, r=0, t=0, b=0),
    paper_bgcolor="white", plot_bgcolor="white",
    font=dict(family=FONT, color="#1A1A1A"),
    showlegend=False,
)
shapes, annotations = [], []

# empty facets are drawn as frame + grid paths (one path per style) to keep rendering light
empty_major, empty_minor, empty_frame = [], [], []

def x_in_panel(left, v):
    return fx(left + (v - X_RANGE[0]) / (X_RANGE[1] - X_RANGE[0]) * PANEL_W)

def y_in_panel(top, v):
    return fy(top + PANEL_H - (v - Y_RANGE[0]) / (Y_RANGE[1] - Y_RANGE[0]) * PANEL_H)

n_rows = len(YEARS)
idx = 0
for r, year in enumerate(YEARS):
    for c in SITES:
        left = COL_X0 + (c - 1) * COL_PITCH
        top = ROW_Y0 + r * ROW_PITCH
        bottom_row = (r == n_rows - 1)
        first_col = (c == 1)
        pts = OBSERVATIONS[year].get(c)
        if not pts and not (bottom_row or first_col):
            xl, xr = fx(left), fx(left + PANEL_W)
            yt, yb = fy(top), fy(top + PANEL_H)
            for v in X_BREAKS:
                xv = x_in_panel(left, v)
                empty_major.append(f"M{xv:.6f},{yb:.6f}L{xv:.6f},{yt:.6f}")
            for v in Y_BREAKS:
                yv = y_in_panel(top, v)
                empty_major.append(f"M{xl:.6f},{yv:.6f}L{xr:.6f},{yv:.6f}")
            for v in X_MINOR:
                xv = x_in_panel(left, v)
                empty_minor.append(f"M{xv:.6f},{yb:.6f}L{xv:.6f},{yt:.6f}")
            for v in Y_MINOR:
                yv = y_in_panel(top, v)
                empty_minor.append(f"M{xl:.6f},{yv:.6f}L{xr:.6f},{yv:.6f}")
            empty_frame.append(f"M{xl:.6f},{yb:.6f}L{xr:.6f},{yb:.6f}L{xr:.6f},{yt:.6f}L{xl:.6f},{yt:.6f}Z")
            continue
        idx += 1
        sfx = "" if idx == 1 else str(idx)
        layout["xaxis" + sfx] = dict(
            domain=[fx(left), fx(left + PANEL_W)], anchor="y" + sfx,
            range=X_RANGE, autorange=False, fixedrange=True,
            tickmode="array", tickvals=X_BREAKS, ticktext=X_LABELS,
            showgrid=True, gridcolor=GRID, gridwidth=LW_MAJOR, zeroline=False,
            minor=dict(tickvals=X_MINOR, showgrid=True, gridcolor=GRID, gridwidth=LW_MINOR, ticks=""),
            showline=True, mirror=True, linecolor=BORDER, linewidth=LW_BORDER,
            ticks="outside" if bottom_row else "", ticklen=11, tickwidth=2.3, tickcolor=BORDER,
            showticklabels=bottom_row, tickfont=dict(family=FONT, size=22, color="#4D4D4D"),
        )
        layout["yaxis" + sfx] = dict(
            domain=[fy(top + PANEL_H), fy(top)], anchor="x" + sfx,
            range=Y_RANGE, autorange=False, fixedrange=True,
            tickmode="array", tickvals=Y_BREAKS, ticktext=Y_LABELS,
            showgrid=True, gridcolor=GRID, gridwidth=LW_MAJOR, zeroline=False,
            minor=dict(tickvals=Y_MINOR, showgrid=True, gridcolor=GRID, gridwidth=LW_MINOR, ticks=""),
            showline=True, mirror=True, linecolor=BORDER, linewidth=LW_BORDER,
            ticks="outside" if first_col else "", ticklen=11, tickwidth=2.3, tickcolor=BORDER,
            showticklabels=first_col, tickfont=dict(family=FONT, size=32, color="#4D4D4D"),
        )
        if not pts:
            fig.add_trace(go.Scatter(x=[None], y=[None], mode="markers", showlegend=False,
                                     xaxis="x" + sfx, yaxis="y" + sfx, hoverinfo="skip"))
            continue
        key = (year, c)
        for model in MODELS:
            path = fitted_path(key, pts, model)
            fig.add_trace(go.Scatter(
                x=[p[0] for p in path], y=[p[1] for p in path],
                mode="lines", name=model, legendgroup=model, showlegend=False,
                line=dict(color=MODEL_COLORS[model], width=7),
                xaxis="x" + sfx, yaxis="y" + sfx, hoverinfo="skip",
            ))
        fig.add_trace(go.Scatter(
            x=[p[0] for p in pts], y=[p[1] for p in pts], mode="markers", showlegend=False,
            marker=dict(size=15, color="rgba(0,0,0,0.5)",
                        line=dict(color="rgba(0,0,0,0.5)", width=1.6)),
            xaxis="x" + sfx, yaxis="y" + sfx, hoverinfo="skip",
        ))

shapes.append(dict(type="path", xref="paper", yref="paper", layer="below", path="".join(empty_minor),
                   line=dict(color=GRID, width=LW_MINOR)))
shapes.append(dict(type="path", xref="paper", yref="paper", layer="below", path="".join(empty_major),
                   line=dict(color=GRID, width=LW_MAJOR)))
shapes.append(dict(type="path", xref="paper", yref="paper", layer="above", path="".join(empty_frame),
                   line=dict(color=BORDER, width=LW_BORDER)))

# ---------------- strips ----------------
for c in SITES:
    left = COL_X0 + (c - 1) * COL_PITCH
    shapes.append(dict(type="rect", xref="paper", yref="paper", layer="above",
                       x0=fx(left), x1=fx(left + PANEL_W), y0=fy(STRIP_TOP_Y[1]), y1=fy(STRIP_TOP_Y[0]),
                       fillcolor="#D9D9D9", line=dict(color=BORDER, width=LW_BORDER)))
    annotations.append(dict(text=str(c), xref="paper", yref="paper", showarrow=False,
                            x=fx(left + PANEL_W / 2), y=fy(sum(STRIP_TOP_Y) / 2),
                            xanchor="center", yanchor="middle",
                            font=dict(family=FONT, size=32, color="#1A1A1A")))
for r, year in enumerate(YEARS):
    top = ROW_Y0 + r * ROW_PITCH
    shapes.append(dict(type="rect", xref="paper", yref="paper", layer="above",
                       x0=fx(STRIP_RIGHT_X[0]), x1=fx(STRIP_RIGHT_X[1]), y0=fy(top + PANEL_H), y1=fy(top),
                       fillcolor="#D9D9D9", line=dict(color=BORDER, width=LW_BORDER)))
    annotations.append(dict(text=str(year), xref="paper", yref="paper", showarrow=False,
                            x=fx(sum(STRIP_RIGHT_X) / 2), y=fy(top + PANEL_H / 2), textangle=90,
                            xanchor="center", yanchor="middle",
                            font=dict(family=FONT, size=32, color="#1A1A1A")))

# ---------------- axis titles ----------------
grid_right = COL_X0 + (len(SITES) - 1) * COL_PITCH + PANEL_W
grid_bottom = ROW_Y0 + (n_rows - 1) * ROW_PITCH + PANEL_H
annotations.append(dict(text="DOY", xref="paper", yref="paper", showarrow=False,
                        x=fx((COL_X0 + grid_right) / 2), y=fy(2436), xanchor="center", yanchor="middle",
                        font=dict(family=FONT, size=41, color="black")))
annotations.append(dict(text=".fitted", xref="paper", yref="paper", showarrow=False,
                        x=fx(33), y=fy((ROW_Y0 + grid_bottom) / 2), textangle=-90,
                        xanchor="center", yanchor="middle",
                        font=dict(family=FONT, size=41, color="black")))

# ---------------- legend (title, key swatches, labels) ----------------
LEGEND_Y = 2567
annotations.append(dict(text=LEGEND_TITLE, xref="paper", yref="paper", showarrow=False,
                        x=fx(1840), y=fy(LEGEND_Y), xanchor="left", yanchor="middle",
                        font=dict(family=FONT, size=41, color="black")))
KEY_X = {"Gompertz": (2016, 2072, 2100), "Logistic": (2313, 2371, 2399)}
for model in MODELS:
    k0, k1, tx = KEY_X[model]
    shapes.append(dict(type="line", xref="paper", yref="paper", x0=fx(k0), x1=fx(k1),
                       y0=fy(LEGEND_Y), y1=fy(LEGEND_Y),
                       line=dict(color=MODEL_COLORS[model], width=9.5)))
    annotations.append(dict(text=model, xref="paper", yref="paper", showarrow=False,
                            x=fx(tx), y=fy(LEGEND_Y + 2), xanchor="left", yanchor="middle",
                            font=dict(family=FONT, size=33, color="black")))

layout["shapes"] = shapes
layout["annotations"] = annotations
fig.update_layout(**layout)
fig.write_html("out.html", config={"staticPlot": True})
